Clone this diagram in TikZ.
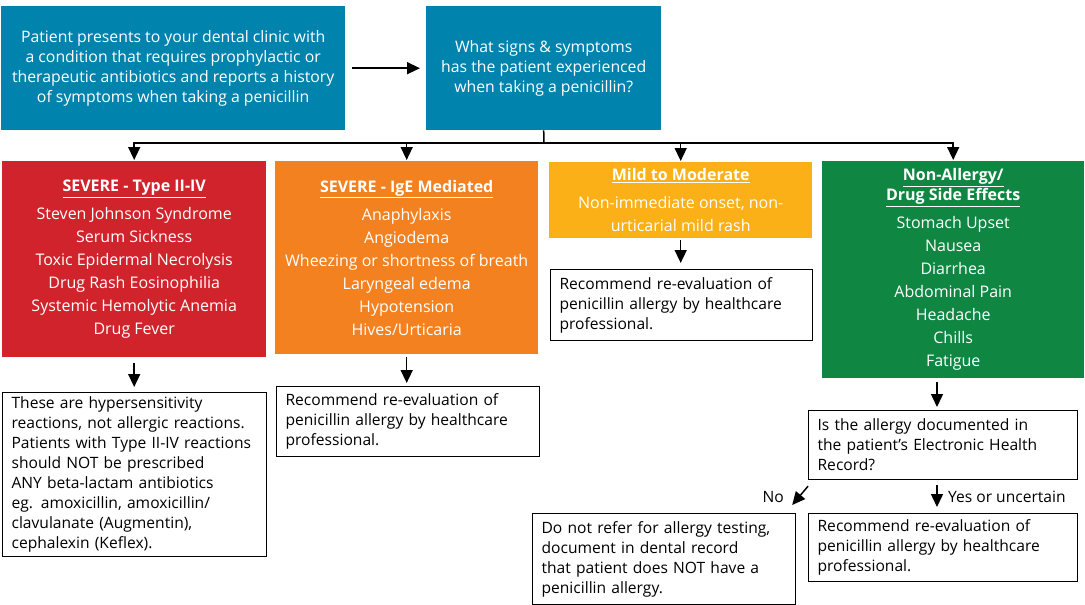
\documentclass[tikz,border=0pt]{standalone}
\usepackage{fontspec}
\setmainfont{Open Sans}
\usetikzlibrary{arrows.meta, positioning}

\definecolor{clinicblue}{HTML}{0083AD}
\definecolor{severered}{HTML}{D0232B}
\definecolor{igeorange}{HTML}{F38120}
\definecolor{mildyellow}{HTML}{FBB017}
\definecolor{sidegreen}{HTML}{0F8642}

\tikzset{
	colbox/.style={fill=#1, text=white, align=center, anchor=north west,
		inner sep=0pt, font=\fontsize{16}{23}\selectfont},
	notebox/.style={draw, line width=1.2pt, align=left, anchor=north west,
		inner xsep=9pt, inner ysep=0pt, font=\fontsize{15.6}{20}\selectfont},
	arr/.style={-{Triangle[length=13pt, width=12pt]}, line width=1.5pt},
	lbl/.style={font=\fontsize{15.6}{20}\selectfont, inner sep=0pt}
}

\begin{document}
\begin{tikzpicture}[x=1pt, y=-1pt]
	\useasboundingbox (0,0) rectangle (1085,605);

	% top row
	\node[colbox=clinicblue, minimum width=344pt, minimum height=124pt,
		font=\fontsize{15.8}{20}\selectfont] (start) at (1,6)
		{Patient presents to your dental clinic with\\
		a condition that requires prophylactic or\\
		therapeutic antibiotics and reports a history\\
		of symptoms when taking a penicillin};
	\node[colbox=clinicblue, minimum width=235pt, minimum height=124pt,
		font=\fontsize{15.8}{20}\selectfont] (sympt) at (426,6)
		{What signs \& symptoms\\
		has the patient experienced\\
		when taking a penicillin?};

	% reaction groups
	\node[colbox=severered, minimum width=264pt, minimum height=196pt] (red) at (2,161)
		{\underline{\textbf{SEVERE - Type II-IV}}\\[5pt]
		Steven Johnson Syndrome\\
		Serum Sickness\\
		Toxic Epidermal Necrolysis\\
		Drug Rash Eosinophilia\\
		Systemic Hemolytic Anemia\\
		Drug Fever};
	\node[colbox=igeorange, minimum width=263pt, minimum height=193pt] (orange) at (275,161)
		{\underline{\textbf{SEVERE - IgE Mediated}}\\[5pt]
		Anaphylaxis\\
		Angiodema\\
		Wheezing or shortness of breath\\
		Laryngeal edema\\
		Hypotension\\
		Hives/Urticaria};
	\node[colbox=mildyellow, minimum width=263pt, minimum height=76pt] (yellow) at (549,162)
		{\underline{\textbf{Mild to Moderate}}\\[5pt]
		Non-immediate onset, non-\\
		urticarial mild rash};
	\node[colbox=sidegreen, minimum width=262pt, minimum height=217pt] (green) at (822,161)
		{\underline{\textbf{Non-Allergy/}}\\[-3pt]
		\underline{\textbf{Drug Side Effects}}\\[5pt]
		Stomach Upset\\
		Nausea\\
		Diarrhea\\
		Abdominal Pain\\
		Headache\\
		Chills\\
		Fatigue};

	% advice boxes
	\node[notebox, text width=246pt, minimum height=164pt] (redNote) at (2,392)
		{These are hypersensitivity\\
		reactions, not allergic reactions.\\
		Patients with Type II-IV reactions\\
		should NOT be prescribed\\
		ANY beta-lactam antibiotics\\
		eg. amoxicillin, amoxicillin/\\
		clavulanate (Augmentin),\\
		cephalexin (Keflex).};
	\node[notebox, text width=245pt, minimum height=70pt] (orangeNote) at (276,386)
		{Recommend re-evaluation of\\
		penicillin allergy by healthcare\\
		professional.};
	\node[notebox, text width=244pt, minimum height=71pt] (yellowNote) at (550,269)
		{Recommend re-evaluation of\\
		penicillin allergy by healthcare\\
		professional.};
	\node[notebox, text width=251pt, minimum height=69pt] (ehrQ) at (808,410)
		{Is the allergy documented in\\
		the patient’s Electronic Health\\
		Record?};
	\node[notebox, text width=245pt, minimum height=91pt] (noNote) at (532,513)
		{Do not refer for allergy testing,\\
		document in dental record\\
		that patient does NOT have a\\
		penicillin allergy.};
	\node[notebox, text width=251pt, minimum height=68pt] (yesNote) at (808,513)
		{Recommend re-evaluation of\\
		penicillin allergy by healthcare\\
		professional.};

	\node[lbl, anchor=east] (noLbl) at (784,497) {No};
	\node[lbl, anchor=west] (yesLbl) at (948,497) {Yes or uncertain};

	% connectors
	\coordinate (bus) at (544,143);
	\coordinate (ehrIn) at (937,410);
	\coordinate (ehrOut) at (937,479);
	\draw[arr, shorten <=7pt, shorten >=6pt] (start) -- (sympt);
	\draw[line width=1.5pt] (sympt.south) -- (bus);
	\draw[arr, shorten >=1pt] (bus) -| (red.north);
	\draw[arr, shorten >=1pt] (bus) -| (orange.north);
	\draw[arr, shorten >=1pt] (bus) -| (yellow.north);
	\draw[arr, shorten >=1pt] (bus) -| (green.north);

	\draw[arr, shorten <=6pt, shorten >=5pt] (red.south) -- (red.south |- redNote.north);
	\draw[arr, shorten <=3pt, shorten >=3pt] (orange.south) -- (orange.south |- orangeNote.north);
	\draw[arr, shorten <=2pt, shorten >=6pt] (yellow.south) -- (yellow.south |- yellowNote.north);
	\draw[arr, shorten <=4pt, shorten >=3pt] (ehrIn |- green.south) -- (ehrIn);
	\draw[arr, shorten <=6pt, shorten >=6pt] (ehrOut) -- (ehrOut |- yesNote.north);
	\draw[arr] ([shift={(0,6)}]ehrQ.south west) -- ([shift={(-4,-8)}]noNote.north east);
\end{tikzpicture}
\end{document}
